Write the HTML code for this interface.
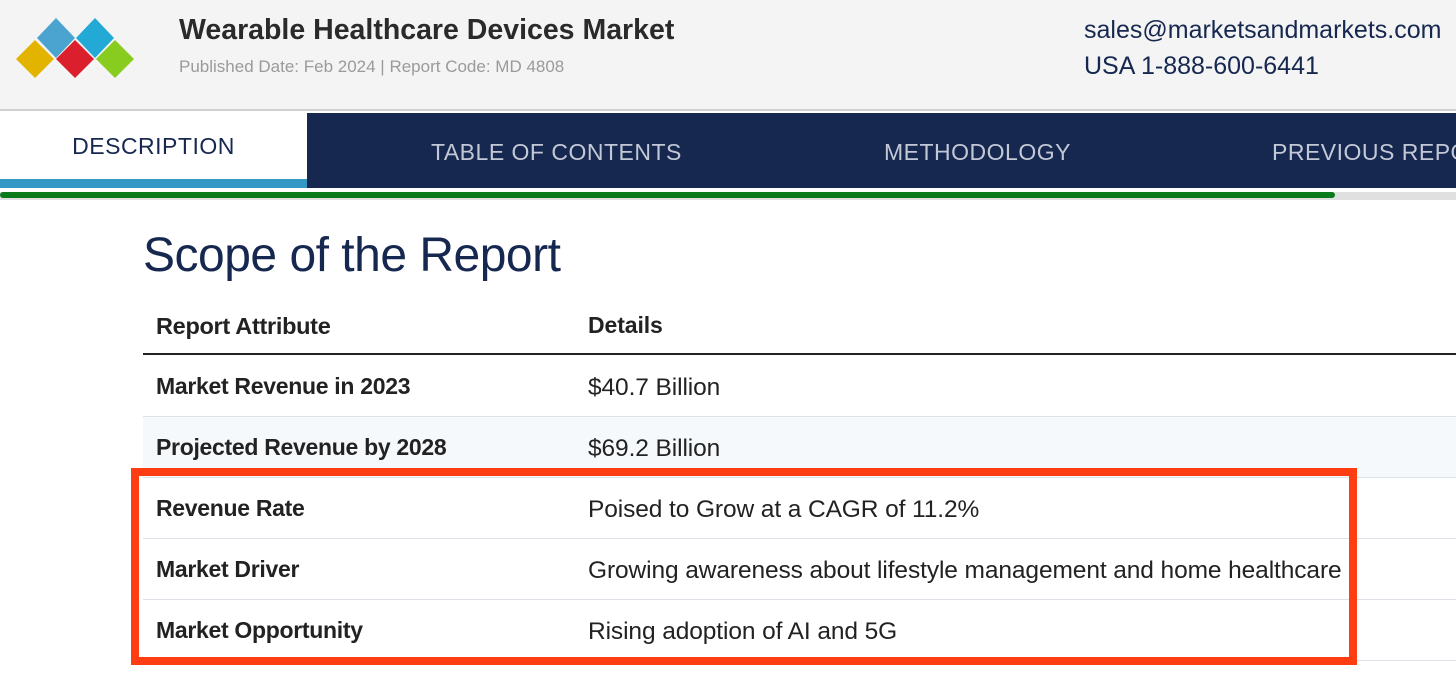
<!DOCTYPE html>
<html><head><meta charset="utf-8"><style>
*{margin:0;padding:0;box-sizing:border-box}
body{width:1456px;height:685px;overflow:hidden;background:#fff;font-family:"Liberation Sans",sans-serif;position:relative}
.abs{position:absolute}
.hdr{left:0;top:0;width:1456px;height:111px;background:#f4f4f4;border-bottom:2px solid #d0d0d0}
.title{left:179px;top:14px;font-size:28.5px;font-weight:bold;color:#2a2a2a;letter-spacing:0}
.sub{left:179px;top:57px;font-size:17px;color:#9a9a9a}
.contact{left:1084px;font-size:25px;color:#16284f}
.nav{left:0;top:113px;width:1456px;height:75px;background:#16284f}
.tab{top:113px;height:75px;font-size:23px;color:#c3c8d6;letter-spacing:0.5px;line-height:78px}
.row{left:143px;width:1313px;height:61px;border-bottom:1px solid #dde2e8}
.c1{position:absolute;left:13px;top:0;line-height:61px;font-size:23px;font-weight:bold;color:#222;letter-spacing:-0.3px}
.c2{position:absolute;left:445px;top:1px;line-height:61px;font-size:24.5px;color:#222;letter-spacing:-0.1px}
</style></head><body>
<div class="abs hdr"></div>
<svg class="abs" style="left:0;top:0" width="150" height="100">
<polygon points="56,18 75,38 56,58 37,38" fill="#4ba3cf"/>
<polygon points="95,18 114,38 95,58 76,38" fill="#22a9d6"/>
<polygon points="35,40 54,59 35,78 16,59" fill="#e2b400"/>
<polygon points="75,40 94,59 75,78 56,59" fill="#dc1f2c"/>
<polygon points="115,40 134,59 115,78 96,59" fill="#87cc1e"/>
</svg>
<div class="abs title">Wearable Healthcare Devices Market</div>
<div class="abs sub">Published Date: Feb 2024 | Report Code: MD 4808</div>
<div class="abs contact" style="top:16px">sales@marketsandmarkets.com</div>
<div class="abs contact" style="top:52px">USA 1-888-600-6441</div>
<div class="abs nav"></div>
<div class="abs" style="left:0;top:113px;width:307px;height:75px;background:#fff"><div style="text-align:center;font-size:23px;color:#16284f;letter-spacing:0.5px;line-height:66px">DESCRIPTION</div><div style="position:absolute;left:0;bottom:0;width:307px;height:9px;background:#3399c4"></div></div>
<div class="abs tab" style="left:431px">TABLE OF CONTENTS</div>
<div class="abs tab" style="left:884px">METHODOLOGY</div>
<div class="abs tab" style="left:1272px;white-space:nowrap">PREVIOUS REPORT</div>
<div class="abs" style="left:0;top:192px;width:1456px;height:8px;background:#e0e0e0"></div>
<div class="abs" style="left:0;top:192px;width:1335px;height:6px;background:#0a7a1a;border-radius:3px"></div>
<div class="abs" style="left:143px;top:228px;font-size:48px;color:#16284f;letter-spacing:-0.5px">Scope of the Report</div>
<div class="abs row" style="top:294px;height:61px;border-bottom:2px solid #222"><div class="c1" style="font-size:23.5px;line-height:64px">Report Attribute</div><div class="c2" style="font-weight:bold;font-size:23px;line-height:63px;top:0">Details</div></div>
<div class="abs row" style="top:356px"><div class="c1">Market Revenue in 2023</div><div class="c2">$40.7 Billion</div></div>
<div class="abs row" style="top:417px;background:#f6f9fc"><div class="c1">Projected Revenue by 2028</div><div class="c2">$69.2 Billion</div></div>
<div class="abs row" style="top:478px"><div class="c1">Revenue Rate</div><div class="c2">Poised to Grow at a CAGR of 11.2%</div></div>
<div class="abs row" style="top:539px"><div class="c1">Market Driver</div><div class="c2">Growing awareness about lifestyle management and home healthcare</div></div>
<div class="abs row" style="top:600px"><div class="c1">Market Opportunity</div><div class="c2">Rising adoption of AI and 5G</div></div>
<div class="abs" style="left:131px;top:468px;width:1226px;height:197px;border:8px solid #ff3d12"></div>
</body></html>
